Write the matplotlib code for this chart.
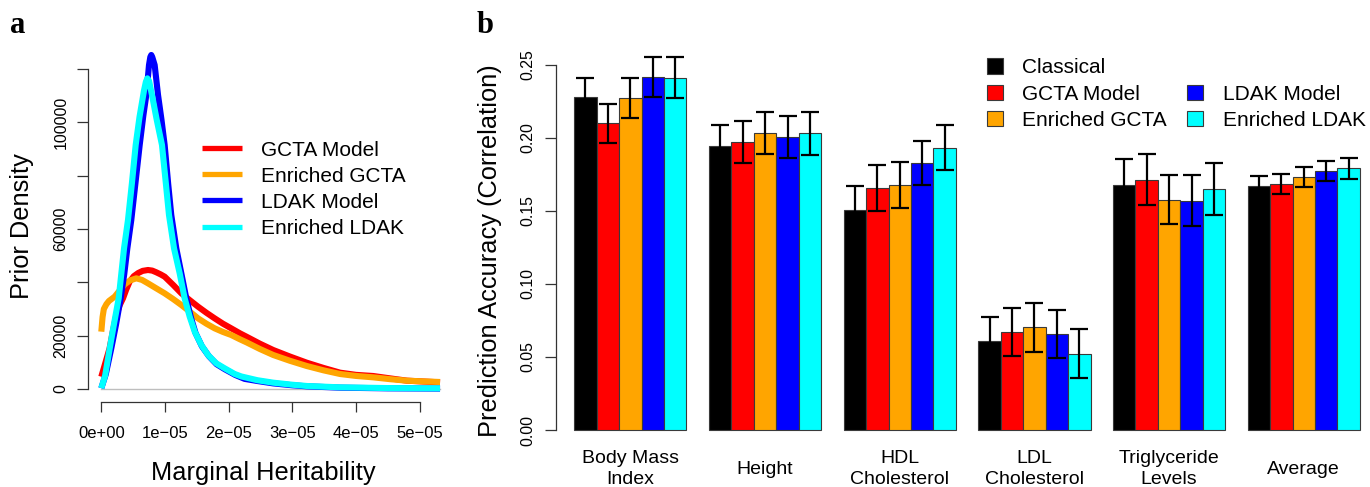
import matplotlib
matplotlib.use("Agg")
import matplotlib.pyplot as plt
import numpy as np
from matplotlib.patches import Rectangle

plt.rcParams['font.family'] = ['Liberation Sans', 'DejaVu Sans']

# ---------------- Panel a data (marginal heritability in units of 1e-5) ----------------
gcta_x = [0.0, 0.06, 0.13, 0.18, 0.236, 0.29, 0.341, 0.39, 0.445, 0.51, 0.58, 0.65, 0.733,
          0.80, 0.86, 0.93, 0.995, 1.13, 1.257, 1.39, 1.519, 1.65, 1.78, 1.91, 2.04, 2.178,
          2.28, 2.49, 2.70, 2.96, 3.226, 3.49, 3.75, 4.0, 4.27, 4.53, 4.80, 5.06, 5.32]
gcta_y = [4600, 9500, 15250, 21500, 27750, 31500, 34000, 37200, 40250, 42300, 43500, 44300,
          44625, 44400, 43800, 43000, 42125, 39000, 35875, 33300, 30875, 28600, 26500, 24500,
          22750, 20875, 19625, 17000, 14625, 12200, 9875, 7900, 6125, 5300, 4875, 4000, 3125,
          2800, 2500]

egcta_x = [0.0, 0.02, 0.04, 0.08, 0.12, 0.21, 0.29, 0.367, 0.45, 0.55, 0.64, 0.733, 0.86,
           0.995, 1.13, 1.257, 1.39, 1.519, 1.65, 1.78, 1.91, 2.04, 2.178, 2.28, 2.49, 2.70,
           2.96, 3.226, 3.49, 3.75, 4.0, 4.27, 4.53, 4.80, 5.06, 5.32]
egcta_y = [21500, 27000, 30000, 31800, 33000, 34625, 37000, 39250, 40700, 41500, 40900, 39625,
           37800, 35875, 33700, 31500, 29000, 26500, 24500, 22750, 21400, 20250, 18625, 17500,
           15000, 12750, 10600, 8625, 7000, 5625, 4900, 4375, 3700, 3125, 2850, 2625]

ldak_x = [0.0, 0.07, 0.157, 0.23, 0.304, 0.36, 0.409, 0.471, 0.54, 0.603, 0.66, 0.707, 0.749,
          0.77, 0.785, 0.80, 0.838, 0.891, 0.945, 0.995, 1.05, 1.099, 1.178, 1.26, 1.335,
          1.405, 1.48, 1.58, 1.69, 1.81, 1.94, 2.1, 2.25, 2.45, 2.70, 3.0, 3.23, 3.75, 4.5,
          5.32]
ldak_y = [300, 5500, 15250, 24000, 34000, 43000, 52750, 63375, 78000, 91500, 102500, 110250,
          121500, 124500, 125250, 124500, 121500, 110250, 101000, 91500, 77000, 65250, 52750,
          43000, 34000, 27000, 21000, 16000, 12300, 9300, 7400, 5300, 3800, 3000, 2100, 1400,
          1000, 500, 250, 150]

eldak_x = [0.0, 0.06, 0.132, 0.2, 0.273, 0.357, 0.419, 0.48, 0.54, 0.6, 0.671, 0.70, 0.723,
           0.75, 0.796, 0.87, 0.953, 1.01, 1.063, 1.142, 1.231, 1.309, 1.388, 1.467, 1.571,
           1.676, 1.806, 1.938, 2.095, 2.2, 2.45, 2.70, 3.0, 3.23, 3.75, 4.5, 5.32]
eldak_y = [300, 5000, 15250, 24500, 34000, 52750, 63375, 77000, 91500, 102000, 112000, 115200,
           116500, 115500, 110250, 101000, 91500, 78000, 65250, 52750, 43375, 34000, 27125,
           21500, 16500, 12750, 9625, 7750, 5625, 4700, 3300, 2375, 1600, 1125, 625, 350, 250]

curve_labels = ["GCTA Model", "Enriched GCTA", "LDAK Model", "Enriched LDAK"]
curve_colors = ["#FF0000", "#FFA500", "#0000FF", "#00FFFF"]

xtick_vals = [0, 1e-5, 2e-5, 3e-5, 4e-5, 5e-5]
xtick_labels = ["0e+00", "1e\u221205", "2e\u221205", "3e\u221205", "4e\u221205", "5e\u221205"]
ytick_vals_a = [0, 20000, 40000, 60000, 80000, 100000, 120000]
ytick_labels_a = ["0", "20000", "", "60000", "", "100000", ""]

# ---------------- Panel b data ----------------
categories = ["Body Mass\nIndex", "Height", "HDL\nCholesterol", "LDL\nCholesterol",
              "Triglyceride\nLevels", "Average"]
series_names = ["Classical", "GCTA Model", "Enriched GCTA", "LDAK Model", "Enriched LDAK"]
series_colors = ["#000000", "#FF0000", "#FFA500", "#0000FF", "#00FFFF"]

classical = [0.2279, 0.1945, 0.1507, 0.0610, 0.1678, 0.1671]
classical_se = [0.0134, 0.0144, 0.0164, 0.0164, 0.0178, 0.0066]
gcta = [0.2100, 0.1970, 0.1655, 0.0671, 0.1715, 0.1683]
gcta_se = [0.0136, 0.0144, 0.0158, 0.0166, 0.0177, 0.0068]
enr_gcta = [0.2274, 0.2032, 0.1678, 0.0703, 0.1578, 0.1731]
enr_gcta_se = [0.0135, 0.0143, 0.0155, 0.0166, 0.0170, 0.0068]
ldak = [0.2418, 0.2005, 0.1829, 0.0658, 0.1571, 0.1774]
ldak_se = [0.0139, 0.0145, 0.0153, 0.0167, 0.0177, 0.0069]
enr_ldak = [0.2413, 0.2032, 0.1934, 0.0523, 0.1653, 0.1792]
enr_ldak_se = [0.0139, 0.0146, 0.0154, 0.0166, 0.0178, 0.0070]

ytick_vals_b = [0.00, 0.05, 0.10, 0.15, 0.20, 0.25]
ytick_labels_b = ["0.00", "0.05", "0.10", "0.15", "0.20", "0.25"]

# ---------------- Figure ----------------
W, H = 1370, 487
fig = plt.figure(figsize=(W / 100, H / 100), dpi=100)


def px_rect(l, t, r, b):
    return [l / W, 1 - b / H, (r - l) / W, (b - t) / H]


AXC = "#333333"

# ---------- Panel a ----------
axL = fig.add_axes(px_rect(88, 41, 453.6, 402.4))
axL.set_xlim(-0.2089e-5, 5.5328e-5)
axL.set_ylim(-5025, 130500)

all_x = gcta_x + egcta_x + ldak_x + eldak_x
axL.plot([min(all_x) * 1e-5, max(all_x) * 1e-5], [0, 0], color="#BEBEBE", lw=1.0, zorder=1)

lw_curve = 4.4
for xs, ys, c, lab in zip([gcta_x, egcta_x, ldak_x, eldak_x],
                          [gcta_y, egcta_y, ldak_y, eldak_y],
                          curve_colors, curve_labels):
    axL.plot(np.array(xs) * 1e-5, ys, color=c, lw=lw_curve, label=lab,
             solid_joinstyle="round", solid_capstyle="butt", zorder=2)

for s in ["top", "right"]:
    axL.spines[s].set_visible(False)
axL.spines["left"].set_bounds(0, 120000)
axL.spines["bottom"].set_bounds(0, 5e-5)
for s in ["left", "bottom"]:
    axL.spines[s].set_color(AXC)
    axL.spines[s].set_linewidth(0.9)

axL.set_xticks(xtick_vals)
axL.set_xticklabels(xtick_labels, fontsize=12)
axL.set_yticks(ytick_vals_a)
axL.set_yticklabels(ytick_labels_a, fontsize=11.5, rotation=90, va="center")
axL.tick_params(axis="x", length=7.2, width=0.9, color=AXC, pad=9.5)
axL.tick_params(axis="y", length=7.9, width=0.9, color=AXC, pad=6.3)

axL.set_ylabel("Prior Density", fontsize=18.3, va="center")
axL.yaxis.set_label_coords((21.7 - 88) / 365.6, (402.4 - 225.8) / 361.4)
axL.set_xlabel("Marginal Heritability", fontsize=18.3, va="center")
axL.xaxis.set_label_coords((263.7 - 88) / 365.6, (402.4 - 473.3) / 361.4)

legL = axL.legend(loc="upper left", bbox_to_anchor=(201.7 / W, 1 - 140.6 / H),
                  bbox_transform=fig.transFigure, frameon=False, fontsize=15,
                  handlelength=1.92, handletextpad=0.93, labelspacing=0.34,
                  borderpad=0, borderaxespad=0)
for ln in legL.get_lines():
    ln.set_linewidth(3.8)

# ---------- Panel b ----------
axR = fig.add_axes(px_rect(556, 40, 1366, 440))
axR.set_xlim(0.187, 36.27)
axR.set_ylim(-10 / 1460, 390 / 1460)

n_groups = len(categories)
n_series = len(series_names)
vals = [classical, gcta, enr_gcta, ldak, enr_ldak]
errs = [classical_se, gcta_se, enr_gcta_se, ldak_se, enr_ldak_se]
group_idx = np.arange(n_groups)
for j, (v, e, c, name) in enumerate(zip(vals, errs, series_colors, series_names)):
    centers = 1 + group_idx * (n_series + 1) + j + 0.5
    axR.bar(centers, v, width=1.0, color=c, edgecolor="#3a3a3a", linewidth=0.8,
            label=name, zorder=2)
    axR.errorbar(centers, v, yerr=e, fmt="none", ecolor="black", elinewidth=1.6,
                 capsize=6.5, capthick=1.6, zorder=3)

for s in ["top", "right", "bottom"]:
    axR.spines[s].set_visible(False)
axR.spines["left"].set_bounds(0, 0.25)
axR.spines["left"].set_color(AXC)
axR.spines["left"].set_linewidth(0.9)
axR.set_yticks(ytick_vals_b)
axR.set_yticklabels(ytick_labels_b, fontsize=11.4, rotation=90, va="center")
axR.tick_params(axis="y", length=7.9, width=0.9, color=AXC, pad=7.3)

group_centers = 1 + group_idx * (n_series + 1) + n_series / 2
axR.set_xticks(group_centers)
axR.set_xticklabels(categories, fontsize=14, linespacing=1.35)
axR.tick_params(axis="x", length=0, pad=21)
for t in axR.get_xticklabels():
    t.set_va("center")
    t.set_multialignment("center")

axR.set_ylabel("Prediction Accuracy (Correlation)", fontsize=18.3, va="center")
axR.yaxis.set_label_coords((490 - 556) / 810, (440 - 250.8) / 400)

handles, labels = axR.get_legend_handles_labels()
blank = Rectangle((0, 0), 1, 1, visible=False)
h_order = [handles[0], handles[1], handles[2], blank, handles[3], handles[4]]
l_order = [labels[0], labels[1], labels[2], "", labels[3], labels[4]]
legR = axR.legend(h_order, l_order, ncol=2, loc="upper left",
                  bbox_to_anchor=(986.7 / W, 1 - 58.4 / H), bbox_transform=fig.transFigure,
                  frameon=False, fontsize=15, handlelength=0.77, handleheight=0.77,
                  handletextpad=0.94, columnspacing=0.96, labelspacing=0.34,
                  borderpad=0, borderaxespad=0)

# panel letters
fig.text(10 / W, 1 - 33.3 / H, "a", fontsize=22, fontweight="bold",
         family=["Liberation Serif", "DejaVu Serif"], ha="left", va="baseline")
fig.text(477 / W, 1 - 33.3 / H, "b", fontsize=22, fontweight="bold",
         family=["Liberation Serif", "DejaVu Serif"], ha="left", va="baseline")

fig.savefig("out.png", dpi=100)
